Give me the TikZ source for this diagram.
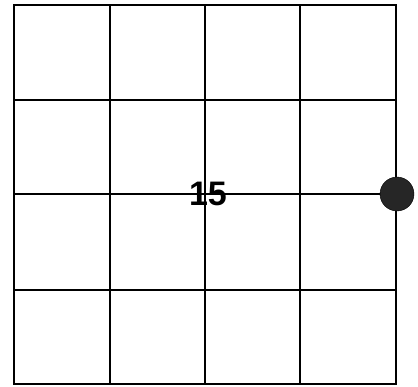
\documentclass[tikz,border=0pt]{standalone}
\usepackage{fontspec}
\setsansfont{Liberation Sans}
\usetikzlibrary{positioning}

\begin{document}
\begin{tikzpicture}[
		x=1pt,y=-1pt,
		cellline/.style={line width=1.3pt},
		frameline/.style={line width=2.6pt},
		counter/.style={
			font=\sffamily\bfseries\fontsize{34}{34}\selectfont,
			inner sep=0pt
		},
		marker/.style={
			circle,
			fill=black!85,
			draw=black,
			minimum size=34pt,
			inner sep=0pt
		}
		]
		
		\useasboundingbox (0,0) rectangle (418,386);
		
		% inner grid lines
		\foreach \x in {110,205,300}
		\draw[cellline] (\x,5) -- (\x,384);
		\foreach \y in {100,194,290}
		\draw[cellline] (14,\y) -- (396,\y);
		
		% outer frame
		\draw[frameline] (14,5) rectangle (396,384);
		
		\node[counter]
		(count) at (208,194)
		{15};
		
		\node[marker]
		(stone) at (397,194)
		{};
		
	\end{tikzpicture}
\end{document}
